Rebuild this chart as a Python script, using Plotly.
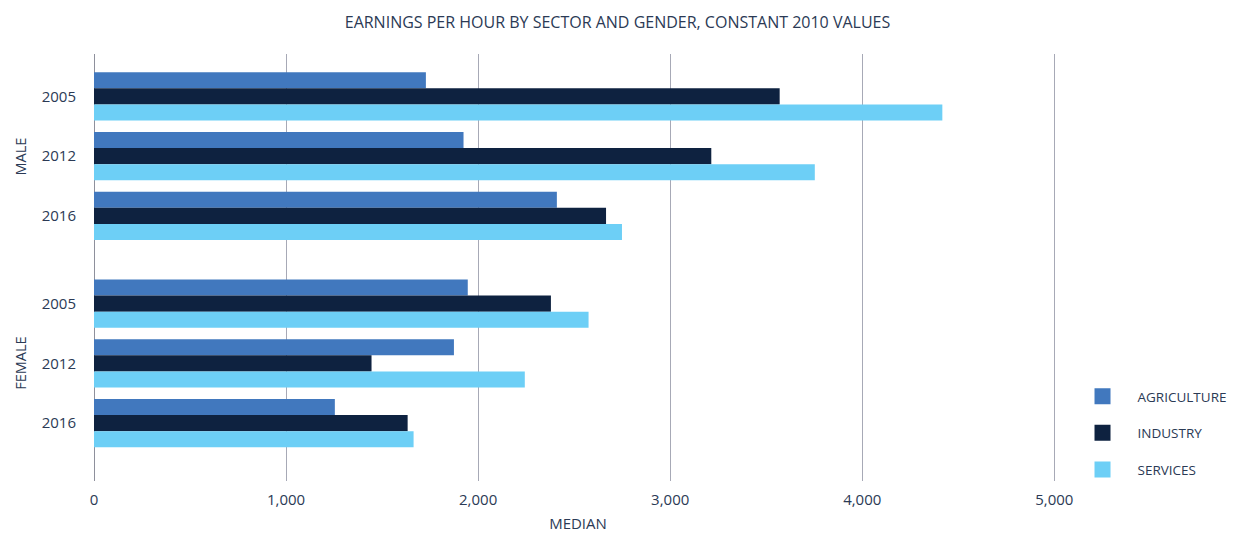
import plotly.graph_objects as go

years = ["2005", "2012", "2016"]
genders = ["MALE", "FEMALE"]
sectors = ["AGRICULTURE", "INDUSTRY", "SERVICES"]
colors = ["#4178BE", "#0E2240", "#6DCFF6"]

male_agriculture = [1728, 1924, 2410]
male_industry = [3570, 3214, 2666]
male_services = [4417, 3753, 2749]
female_agriculture = [1946, 1874, 1254]
female_industry = [2379, 1445, 1633]
female_services = [2575, 2243, 1664]

x_ticks = [0, 1000, 2000, 3000, 4000, 5000]
x_tick_labels = ["0", "1,000", "2,000", "3,000", "4,000", "5,000"]

GAP = 0.47  # extra space between gender blocks
ypos = [i for i in range(len(years))] + [i + len(years) + GAP for i in range(len(years))]
ylabels = years + years

values = {
    "AGRICULTURE": male_agriculture + female_agriculture,
    "INDUSTRY": male_industry + female_industry,
    "SERVICES": male_services + female_services,
}

TXT = "#2b3a55"
FONT = "Open Sans"

fig = go.Figure()
for s, c in zip(sectors, colors):
    fig.add_trace(go.Bar(
        y=ypos, x=values[s], orientation="h", name=s,
        marker=dict(color=c, line=dict(width=0)),
        showlegend=False,
    ))
    fig.add_trace(go.Scatter(
        x=[None], y=[None], mode="markers", name=s, legendgroup=s,
        marker=dict(symbol="square", size=16, color=c),
        showlegend=True,
    ))

fig.update_layout(
    width=1227, height=527,
    margin=dict(l=86, r=173, t=46, b=54, autoexpand=False),
    paper_bgcolor="white", plot_bgcolor="white",
    barmode="group", bargap=0.19, bargroupgap=0,
    font=dict(family=FONT, size=14, color=TXT),
    title=dict(text="EARNINGS PER HOUR BY SECTOR AND GENDER, CONSTANT 2010 VALUES",
               x=(617.5 - 8) / 1227, xref="container", xanchor="center",
               y=1 - 14 / 527, yref="container", yanchor="middle",
               font=dict(family=FONT, size=16, color=TXT)),
    xaxis=dict(range=[0, 5040], tickvals=x_ticks, ticktext=x_tick_labels,
               showgrid=True, gridcolor="#a7a9b6", gridwidth=1.3,
               zeroline=True, zerolinecolor="#8e909c", zerolinewidth=1.3,
               showline=False, ticks="", ticklabelstandoff=8,
               title=dict(text="MEDIAN", standoff=10, font=dict(size=15, color=TXT)),
               tickfont=dict(size=15, color=TXT)),
    yaxis=dict(range=[len(years) * 2 + GAP - 0.03, -0.71], tickvals=ypos, ticktext=ylabels,
               showgrid=False, zeroline=False, showline=False, ticks="",
               ticklabelstandoff=17, tickfont=dict(size=15, color=TXT)),
    legend=dict(x=0.8635, y=0.2922, xref="container", yref="container",
                xanchor="left", yanchor="top",
                font=dict(size=13.5, color=TXT), itemwidth=60, tracegroupgap=16,
                bgcolor="rgba(0,0,0,0)"),
)

for g, mid in zip(genders, [ypos[1], ypos[4]]):
    fig.add_annotation(text=g, x=-0.076, xref="paper", y=mid, yref="y",
                       textangle=-90, showarrow=False, xanchor="center", yanchor="middle",
                       font=dict(size=14.5, color=TXT))

fig.write_html("out.html")
